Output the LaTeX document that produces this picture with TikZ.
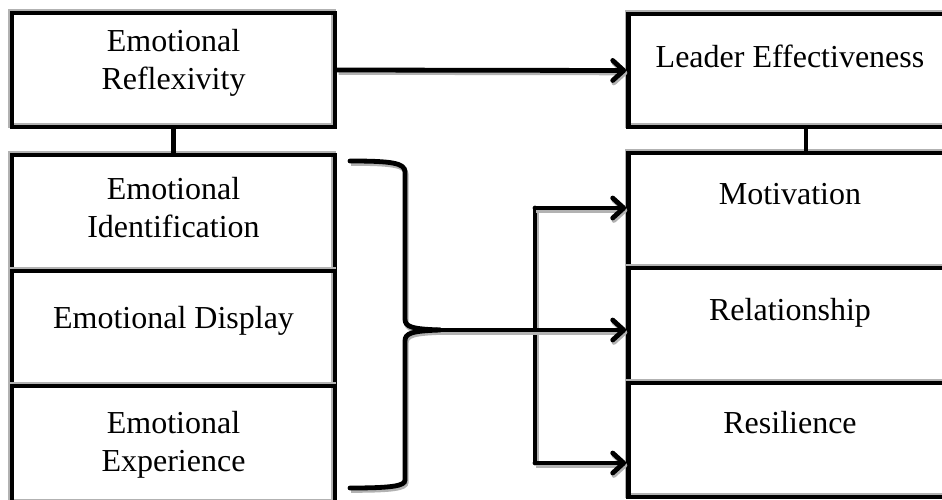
\documentclass[tikz,border=0pt]{standalone}
\usepackage{fontspec}
\setmainfont{Liberation Serif}
\usetikzlibrary{positioning,arrows.meta}

\begin{document}
\begin{tikzpicture}[x=1pt,y=-1pt]
  \tikzset{>={Straight Barb[length=11pt,width=20pt,round]}}
  \tikzset{box/.style={draw, line width=4.8pt, minimum width=323pt, inner sep=0pt,
      preaction={draw=gray!60, line width=4.8pt, transform canvas={shift={(-1.2pt,1.2pt)}}}},
    lbl/.style={align=center, inner sep=0pt, font=\fontsize{32}{38}\selectfont},
    link/.style={line width=4.8pt, line cap=round,
      preaction={draw=gray!60, line width=4.8pt, transform canvas={shift={(1.2pt,-2.4pt)}}}}}
  \clip (0,0) rectangle (942,500);
  % left column
  \node[box, minimum height=114pt] (refl) at (173.5,70) {};
  \node[box, minimum height=116pt] (ident) at (173.5,213) {};
  \node[box, minimum height=115pt] (disp) at (173.5,328.5) {};
  \node[box, minimum height=117pt] (exper) at (173.5,444.5) {};
  % right column
  \node[box, minimum height=113pt] (lead) at (790,70.5) {};
  \node[box, minimum height=115pt] (mot) at (790,210.5) {};
  \node[box, minimum height=115pt] (rel) at (790,325.5) {};
  \node[box, minimum height=114pt] (res) at (790,440) {};

  \node[lbl, below=18pt of refl.north] (reflT) {Emotional\\Reflexivity};
  \node[lbl, below=24pt of ident.north] (identT) {Emotional\\Identification};
  \node[lbl, below=37pt of disp.north] (dispT) {Emotional Display};
  \node[lbl, below=27pt of exper.north] (experT) {Emotional\\Experience};
  \node[lbl, below=33pt of lead.north] (leadT) {Leader Effectiveness};
  \node[lbl, below=33pt of mot.north] (motT) {Motivation};
  \node[lbl, below=32pt of rel.north] (relT) {Relationship};
  \node[lbl, below=30pt of res.north] (resT) {Resilience};

  \draw[line width=4.8pt] (refl.south) -- (ident.north);
  \draw[line width=4.8pt] ([xshift=16pt]lead.south) -- ([xshift=16pt]mot.north);
  \draw[link,->] (refl.east) -- (lead.west);

  % brace and fork
  \coordinate (braceTip) at (440,330);
  \coordinate (forkA) at (535,208);
  \coordinate (forkB) at (535,463);
  \draw[link] (350,161) .. controls (392,161) and (405,163) .. (405,172) -- (405,319)
    .. controls (405,327) and (412,329) .. (braceTip);
  \draw[link] (braceTip) .. controls (412,331) and (405,333) .. (405,341) -- (405,480)
    .. controls (405,486) and (392,488) .. (350,488);
  \draw[link] (forkA) -- (forkB);
  \foreach \p/\b in {forkA/mot, braceTip/rel, forkB/res}
    \draw[link,->] (\p) -- (\p -| \b.west);
\end{tikzpicture}
\end{document}
